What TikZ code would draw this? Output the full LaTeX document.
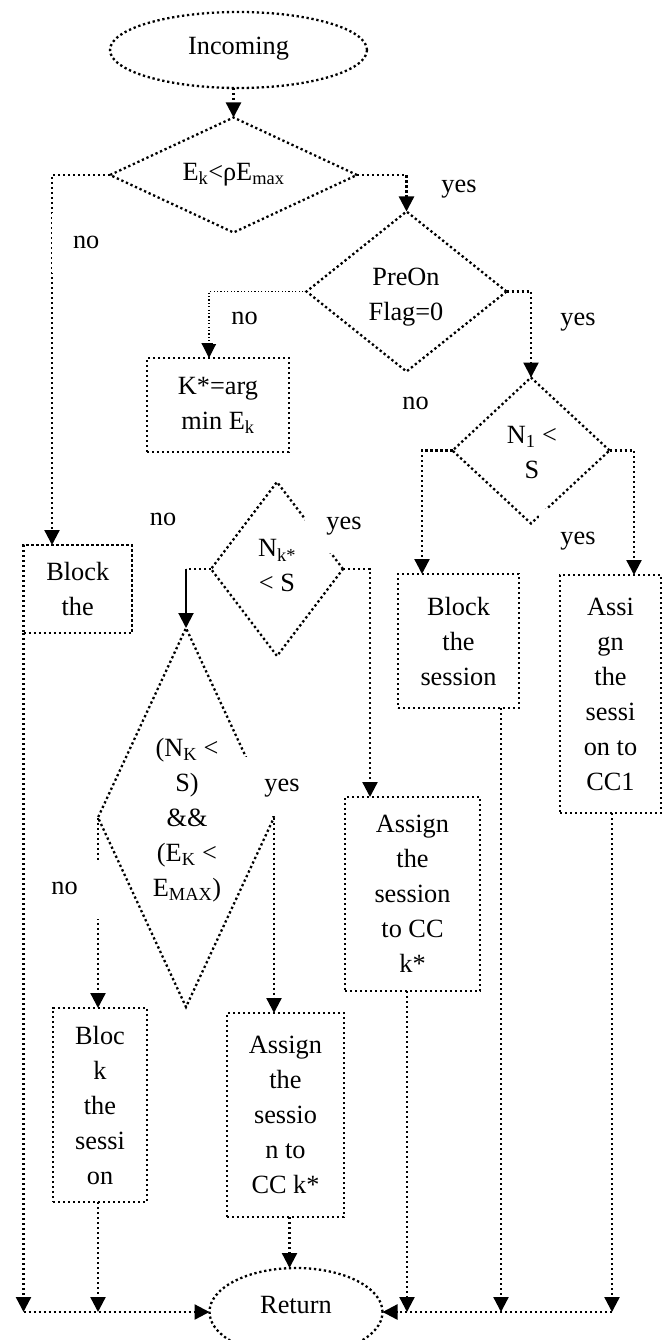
\documentclass[tikz,border=0pt]{standalone}
\usepackage{fontspec}
\setmainfont{Liberation Serif}
\usetikzlibrary{arrows.meta,shapes.geometric}
\pgfdeclarelayer{flow}
\pgfdeclarelayer{tags}
\pgfsetlayers{flow,tags,main}

\begin{document}
\begin{tikzpicture}[x=1pt,y=-1pt,
  every node/.style={font=\fontsize{26.3pt}{35pt}\selectfont, inner sep=0pt, outer sep=0pt},
  dots/.style={line width=2.3pt, dash pattern=on 2.3pt off 2.7pt},
  finedots/.style={line width=1.2pt, dash pattern=on 1.2pt off 2.2pt},
  arr/.style={-{Triangle[length=15pt,width=15pt]}},
  box/.style={draw, dots, rectangle, align=center},
  dia/.style={draw, dots, diamond},
  oval/.style={draw, dots, ellipse},
  txt/.style={align=center},
  lbl/.style={fill=white, inner xsep=21.5pt, minimum height=59pt, text height=11.8pt, text depth=0pt},
]
\useasboundingbox (0,0) rectangle (663,1340);

% process boxes (top layer)
\node[box, minimum width=142pt, minimum height=94pt] (kbox) at (218,405) {K*=arg\\min E\textsubscript{k}};
\node[box, minimum width=108.5pt, minimum height=88pt] (blk1) at (77.75,589) {Block\\the};
\node[box, minimum width=121pt, minimum height=134pt] (blk2) at (458.5,641) {Block\\the\\session};
\node[box, minimum width=101pt, minimum height=238pt] (as1) at (610.5,694) {Assi\\gn\\the\\sessi\\on to\\CC1};
\node[box, minimum width=135pt, minimum height=194pt] (as2) at (412.5,894) {Assign\\the\\session\\to CC\\k*};
\node[box, minimum width=94pt, minimum height=194pt] (blk3) at (100,1105) {Bloc\\k\\the\\sessi\\on};
\node[box, minimum width=117pt, minimum height=204pt] (as3) at (285.5,1115) {Assign\\the\\sessio\\n to\\CC k*};

\begin{pgfonlayer}{flow}
% terminals and decisions
\node[oval, minimum width=257pt, minimum height=76pt, text height=17.4pt, text depth=7.6pt] (inc) at (238.5,50) {Incoming};
\node[dia, minimum width=247pt, minimum height=115pt] (d1) at (233.5,175) {};
\node[txt, text height=17.4pt, text depth=0pt] (d1t) at (233.5,172) {E\textsubscript{k}<ρE\textsubscript{max}};
\node[dia, minimum width=200pt, minimum height=160pt] (d2) at (406.5,291.5) {};
\node[txt] (d2t) at (406,297) {PreOn\\Flag=0};
\node[dia, minimum width=157pt, minimum height=146pt] (d3) at (531,450.5) {};
\node[txt] (d3t) at (532,452.5) {N\textsubscript{1} <\\S};
\node[dia, minimum width=132pt, minimum height=174pt] (d4) at (277,569) {};
\node[txt] (d4t) at (277,566) {N\textsubscript{k*}\\< S};
\node[dia, minimum width=176pt, minimum height=379pt] (d5) at (186,817.5) {};
\node[txt] (d5t) at (187,820) {(N\textsubscript{K} <\\S)\\\&\&\\(E\textsubscript{K} <\\E\textsubscript{MAX})};
\node[oval, minimum width=173pt, minimum height=88pt, text height=17.4pt, text depth=14pt] (ret) at (296,1312) {Return};

% connectors
\draw[dots, arr] (inc.south -| d1.north) -- (d1.north);
\draw[dots, arr] (d1.west) -| ([xshift=28.5pt]blk1.north west);
\draw[dots, arr] (d1.east) -| (d2.north);
\draw[finedots, arr] (d2.west) -| ([xshift=-9pt]kbox.north);
\draw[dots, arr] (d2.east) -| (d3.north);
\draw[dots, arr] (d3.west) -| ([xshift=24pt]blk2.north west);
\draw[dots, arr] (d3.east) -| ([xshift=74pt]as1.north west);
\draw[dots] (d4.west) -- (d4.west -| d5.north);
\draw[line width=2pt, arr] (d4.west -| d5.north) -- (d5.north);
\draw[dots, arr] (d4.east) -| ([xshift=25pt]as2.north west);
\draw[dots, arr] (d5.west) -- (d5.west |- blk3.north);
\draw[dots, arr] (d5.east) -- (d5.east |- as3.north);
\draw[dots, arr] ([xshift=4pt]as3.south) -- ([xshift=4pt]as3.south |- ret.north);

% collecting lines into Return
\coordinate (cl) at (blk1.south west |- ret.west);
\coordinate (cr) at ([xshift=1.5pt]as1.south |- ret.east);
\draw[dots, arr] (blk1.south west) -- (cl);
\draw[dots, arr] (d5.west |- blk3.south) -- (d5.west |- ret.west);
\draw[dots, arr] ([xshift=-5.5pt]as2.south) -- ([xshift=-5.5pt]as2.south |- ret.east);
\draw[dots, arr] ([xshift=-18pt]blk2.south east) -- ([xshift=-18pt]blk2.south east |- ret.east);
\draw[dots, arr] ([xshift=1.5pt]as1.south) -- (cr);
\draw[dots, arr] (cl) -- (ret.west);
\draw[dots, arr] (cr) -- (ret.east);
\end{pgfonlayer}

\begin{pgfonlayer}{tags}
\node[lbl] (l1) at (459,187) {yes};
\node[lbl] (l2) at (86.2,243) {no};
\node[lbl, minimum height=52pt, inner xsep=18pt] (l3) at (244.5,318.3) {no};
\node[lbl] (l4) at (578,320) {yes};
\node[lbl] (l5) at (415.6,403.3) {no};
\node[lbl] (l6) at (163,520) {no};
\node[lbl] (l7) at (344,523.3) {yes};
\node[lbl] (l8) at (578,538.3) {yes};
\node[lbl] (l9) at (282,786) {yes};
\node[lbl] (l10) at (64.5,889) {no};
\end{pgfonlayer}
\end{tikzpicture}
\end{document}
